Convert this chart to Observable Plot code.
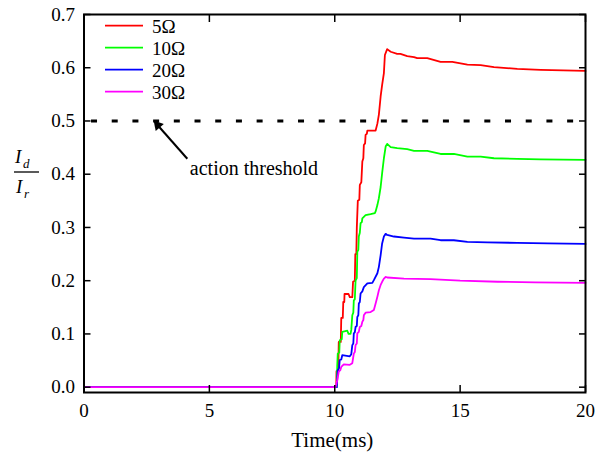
<!DOCTYPE html>
<html><head><meta charset="utf-8">
<script src="https://cdn.jsdelivr.net/npm/d3@7"></script>
<script src="https://cdn.jsdelivr.net/npm/@observablehq/plot@0.6"></script>
<style>body{margin:0;background:#fff}#chart{position:relative;width:608px;height:455px}</style>
</head><body><div id="chart"></div>
<script>
// ---- data ----
const seriesNames = ["5Ω", "10Ω", "20Ω", "30Ω"];
const seriesColors = ["#ff0000", "#00ff00", "#0000ff", "#ff00ff"];

const t5 = [0,10.0,10.06,10.07,10.14,10.16,10.24,10.26,10.32,10.34,10.38,10.39,10.55,10.6,10.7,10.73,10.8,10.82,10.86,10.88,10.92,10.98,11.0,11.06,11.1,11.14,11.16,11.21,11.23,11.28,11.3,11.63,11.7,11.76,11.83,11.89,11.96,12.0,12.09,12.23,12.49,12.62,12.89,13.16,13.29,13.69,14.22,14.69,15.29,15.82,16.35,17.28,18.21,20];
const v5 = [0,0,0,0.03,0.03,0.085,0.085,0.13,0.13,0.16,0.16,0.175,0.175,0.169,0.169,0.198,0.2,0.25,0.25,0.3,0.35,0.352,0.38,0.385,0.424,0.43,0.455,0.458,0.474,0.476,0.482,0.482,0.495,0.512,0.546,0.568,0.59,0.624,0.635,0.63,0.626,0.626,0.622,0.62,0.618,0.618,0.611,0.611,0.606,0.605,0.601,0.598,0.596,0.594];

const t10 = [0,10.05,10.08,10.1,10.12,10.18,10.2,10.28,10.3,10.5,10.55,10.63,10.66,10.7,10.74,10.76,10.8,10.83,10.88,10.9,10.94,10.96,11.0,11.03,11.08,11.1,11.23,11.43,11.6,11.63,11.7,11.76,11.83,11.89,11.96,12.03,12.09,12.23,12.49,12.89,13.16,13.69,14.22,14.75,15.29,15.82,16.35,17.28,18.21,20];
const v10 = [0,0,0,0.04,0.063,0.065,0.088,0.09,0.104,0.106,0.1,0.1,0.108,0.135,0.14,0.163,0.165,0.2,0.205,0.254,0.258,0.283,0.29,0.308,0.31,0.317,0.323,0.325,0.327,0.33,0.342,0.355,0.376,0.402,0.43,0.452,0.457,0.451,0.449,0.447,0.444,0.444,0.438,0.438,0.433,0.433,0.43,0.429,0.428,0.427];

const t20 = [0,10.08,10.12,10.17,10.2,10.26,10.3,10.6,10.66,10.7,10.74,10.76,10.8,10.83,10.88,10.9,10.94,10.96,11.0,11.03,11.1,11.16,11.3,11.5,11.56,11.7,11.76,11.83,11.89,11.96,12.03,12.09,12.36,12.76,13.16,13.82,14.22,14.75,15.29,16.09,17.28,18.5,20];
const v20 = [0,0,0.032,0.035,0.051,0.052,0.06,0.058,0.062,0.079,0.082,0.101,0.103,0.113,0.115,0.132,0.135,0.157,0.16,0.176,0.18,0.188,0.195,0.196,0.201,0.214,0.226,0.248,0.27,0.283,0.288,0.286,0.283,0.281,0.279,0.279,0.276,0.276,0.273,0.272,0.271,0.27,0.269];

const t30 = [0,10.03,10.1,10.16,10.22,10.26,10.36,10.6,10.7,10.76,10.8,10.83,10.88,10.9,10.96,11.0,11.06,11.1,11.14,11.16,11.23,11.43,11.56,11.63,11.7,11.76,11.83,11.89,11.96,12.03,12.09,12.76,13.82,15.0,16.5,18.0,20];
const v30 = [0,0,0.013,0.029,0.032,0.038,0.043,0.042,0.045,0.063,0.066,0.079,0.082,0.101,0.104,0.113,0.115,0.123,0.126,0.135,0.14,0.141,0.145,0.157,0.17,0.182,0.192,0.198,0.204,0.207,0.206,0.204,0.203,0.2,0.198,0.197,0.196];

const xTicks = [0, 5, 10, 15, 20];
const yTicks = [0, 0.1, 0.2, 0.3, 0.4, 0.5, 0.6, 0.7];
const threshold = 0.5;
const annotationLabel = "action threshold";
const xLabel = "Time(ms)";

// ---- build table ----
const times = [t5, t10, t20, t30];
const vals = [v5, v10, v20, v30];
const rows = [];
seriesNames.forEach((s, i) => times[i].forEach((t, j) => rows.push({s, t, v: vals[i][j]})));

const serif = "Liberation Serif, Times New Roman, serif";
const plot = Plot.plot({
  width: 608, height: 455,
  marginLeft: 83.5, marginRight: 23, marginTop: 14, marginBottom: 63,
  style: {fontFamily: serif, fontSize: "19px", color: "black", background: "white", overflow: "visible"},
  x: {domain: [0, 20]},
  y: {domain: [-0.01, 0.7]},
  color: {domain: seriesNames, range: seriesColors},
  marks: [
    Plot.ruleY([threshold], {x1: 0.3, x2: 19.65, stroke: "black", strokeWidth: 3, strokeDasharray: "6,14.7"}),
    Plot.line(rows, {x: "t", y: "v", z: "s", stroke: "s", strokeWidth: 1.8}),
    Plot.axisX({ticks: xTicks, tickSize: -7, tickPadding: 18, tickFormat: d => String(d), label: null, strokeWidth: 1.5, fontFamily: serif, fontSize: 19, fontVariant: "normal"}),
    Plot.axisX({anchor: "top", ticks: xTicks, tickSize: -7, tickFormat: () => "", label: null, strokeWidth: 1.5}),
    Plot.axisY({ticks: yTicks, tickSize: -7, tickPadding: 16, tickFormat: d3.format(".1f"), label: null, strokeWidth: 1.5, fontFamily: serif, fontSize: 19, fontVariant: "normal"}),
    Plot.axisY({anchor: "right", ticks: yTicks, tickSize: -7, tickFormat: () => "", label: null, strokeWidth: 1.5}),
    Plot.frame({stroke: "black", strokeWidth: 2}),
    Plot.link([{x1: 4.12, y1: 0.429, x2: 2.94, y2: 0.492}], {x1: "x1", y1: "y1", x2: "x2", y2: "y2", stroke: "black", strokeWidth: 2}),
    Plot.dot([{x: 2.94, y: 0.492}], {x: "x", y: "y", symbol: "triangle", r: 4, fill: "black", stroke: "none", rotate: -41}),
    Plot.text([annotationLabel], {x: 4.22, y: 0.4115, text: d => d, textAnchor: "start", fontSize: 20, fill: "black", fontFamily: serif}),
    Plot.text([xLabel], {frameAnchor: "bottom", lineAnchor: "middle", dy: 48, dx: -2.5, text: d => d, fontSize: 21, fill: "black", fontFamily: serif})
  ]
});
document.getElementById("chart").appendChild(plot);

// ---- y-axis label (I_d / I_r) and legend ----
const svg = d3.select(plot);
const yl = svg.append("g").style("font-family", serif).style("font-style", "italic").attr("fill", "black").attr("text-anchor", "start");
yl.append("text").attr("x", 15).attr("y", 163).style("font-size", "19px").text("I");
yl.append("text").attr("x", 23).attr("y", 168).style("font-size", "13px").text("d");
yl.append("line").attr("x1", 14).attr("x2", 39).attr("y1", 172).attr("y2", 172).attr("stroke", "black").attr("stroke-width", 1.3);
yl.append("text").attr("x", 16).attr("y", 193).style("font-size", "19px").text("I");
yl.append("text").attr("x", 24).attr("y", 198).style("font-size", "13px").text("r");

const lg = svg.append("g").style("font-family", serif).style("font-size", "19px").attr("fill", "black").attr("text-anchor", "start");
seriesNames.forEach((s, i) => {
  const y = 25.7 + 22 * i;
  lg.append("line").attr("x1", 105).attr("x2", 143).attr("y1", y).attr("y2", y).attr("stroke", seriesColors[i]).attr("stroke-width", 1.8);
  lg.append("text").attr("x", 152).attr("y", y + 7).text(s);
});
</script></body></html>
